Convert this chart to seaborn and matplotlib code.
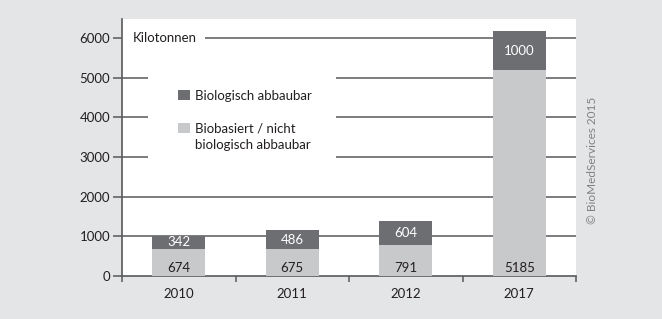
import numpy as np
import pandas as pd
import seaborn as sns
import matplotlib.pyplot as plt
from matplotlib.patches import Patch, Rectangle

# values (kilotonnes)
years = ["2010", "2011", "2012", "2017"]
biobasiert = [674, 675, 791, 5185]      # lower, light segment
biologisch = [342, 486, 604, 1000]      # upper, dark segment
yticks = [0, 1000, 2000, 3000, 4000, 5000, 6000]

dark = "#6d6e71"
light = "#c8c9cb"
bg = "#e4e5e7"
txt = "#231f20"
fs = 9.5

sns.set_theme(style="white")
plt.rcParams["font.family"] = ["Lato", "DejaVu Sans"]

df = pd.DataFrame({"Jahr": years, "unten": biobasiert, "oben": biologisch})
df["gesamt"] = df["unten"] + df["oben"]

fig = plt.figure(figsize=(6.62, 3.19), dpi=100, facecolor=bg)
ax = fig.add_axes([122 / 662, 1 - 276 / 319, 454 / 662, 257 / 319])
ax.set_facecolor("white")

# stacked bars: total first (dark), then lower part (light) over it
sns.barplot(data=df, x="Jahr", y="gesamt", color=dark, width=0.47,
            saturation=1, ax=ax, zorder=2)
sns.barplot(data=df, x="Jahr", y="unten", color=light, width=0.47,
            saturation=1, ax=ax, zorder=3)
for p in ax.patches:
    p.set_edgecolor("none")

ax.set_xlim(-0.5, 3.5)
ax.set_ylim(0, 6480)
ax.set_xlabel("")
ax.set_ylabel("")

# grid lines
for v in yticks[1:]:
    ax.axhline(v, color="#58595b", lw=1.1, zorder=0.5)

# white boxes that break the grid lines
ax.add_patch(Rectangle((0, 5820), 0.183, 360, transform=ax.get_yaxis_transform(),
                       facecolor="white", edgecolor="none", zorder=0.8))
ax.add_patch(Rectangle((0.057, 0.43), 0.414, 0.37, transform=ax.transAxes,
                       facecolor="white", edgecolor="none", zorder=0.8))
ax.text(0.024, 6000, "Kilotonnen", transform=ax.get_yaxis_transform(),
        ha="left", va="center", fontsize=fs, color=txt, zorder=4)

# bar labels
for i, (u, o) in enumerate(zip(biobasiert, biologisch)):
    ax.text(i, 210, str(u), ha="center", va="center", fontsize=fs, color=txt, zorder=4)
    ax.text(i, u + o / 2, str(o), ha="center", va="center", fontsize=fs,
            color="white", zorder=4)

# axes styling
for s in ["top", "right"]:
    ax.spines[s].set_visible(False)
for s in ["left", "bottom"]:
    ax.spines[s].set_color("#58595b")
    ax.spines[s].set_linewidth(1.2)

ax.set_yticks(yticks)
ax.set_yticklabels([str(v) for v in yticks], fontsize=fs, color=txt)
ax.tick_params(axis="y", direction="out", length=6.5, width=1.1, color="#58595b",
               pad=2, left=True)
ax.set_xticks(range(len(years)))
ax.set_xticklabels(years, fontsize=fs, color=txt)
ax.set_xticks(np.arange(-0.5, 4, 1), minor=True)
ax.tick_params(axis="x", which="major", length=0, pad=9)
ax.tick_params(axis="x", which="minor", direction="out", length=4, width=1.1,
               color="#58595b", bottom=True)

# legend: second label split over two rows so the swatch sits on its first line
none = Patch(facecolor="none", edgecolor="none")
handles = [Patch(facecolor=dark, edgecolor="none"), none,
           Patch(facecolor=light, edgecolor="none"), none]
labels = ["Biologisch abbaubar", " ", "Biobasiert / nicht", "biologisch abbaubar"]
leg = ax.legend(handles, labels, loc="upper left", bbox_to_anchor=(0.124, 0.725),
                frameon=False, fontsize=fs, handlelength=0.85, handleheight=0.85,
                handletextpad=0.45, labelspacing=0.33, borderpad=0, borderaxespad=0)
for t in leg.get_texts():
    t.set_color(txt)
leg.set_zorder(4)

fig.text(592 / 662, 1 - 160 / 319, "© BioMedServices 2015", rotation=90,
         ha="center", va="center", fontsize=8.5, color="#808184")

fig.savefig("out.png", dpi=100, facecolor=bg)
